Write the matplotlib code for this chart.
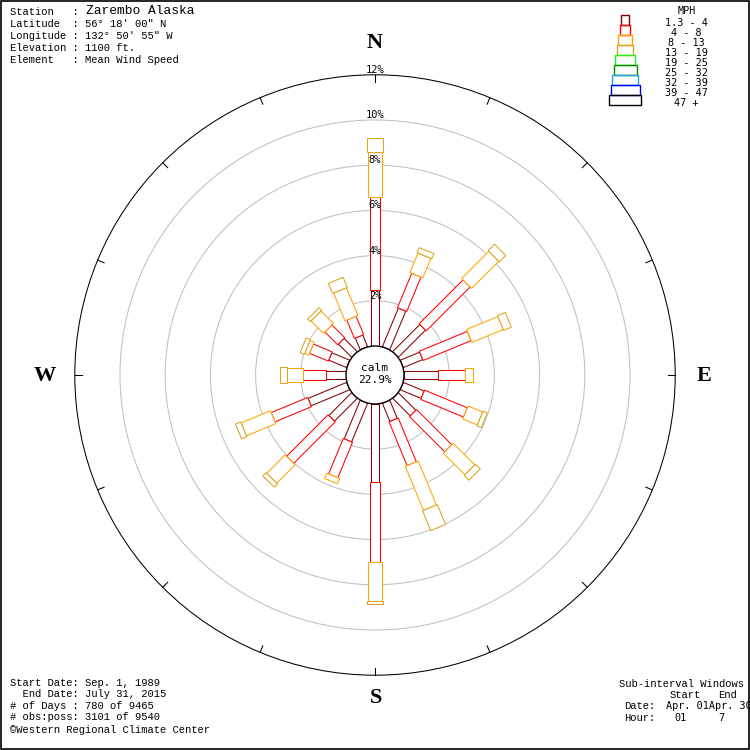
import numpy as np
import matplotlib
matplotlib.use("Agg")
import matplotlib.pyplot as plt
from matplotlib.patches import Polygon, Circle, Rectangle

# ---------------- data ----------------
directions = ['N', 'NNE', 'NE', 'ENE', 'E', 'ESE', 'SE', 'SSE',
              'S', 'SSW', 'SW', 'WSW', 'W', 'WNW', 'NW', 'NNW']
dir_angles = [0, 22.5, 45, 67.5, 90, 112.5, 135, 157.5,
              180, 202.5, 225, 247.5, 270, 292.5, 315, 337.5]
# percent of observations per speed bin (1.3-4, 4-8, 8-13, 13-19 mph)
spd_1_4 = [2.50, 1.85, 1.70, 0.93, 1.52, 1.00, 1.10, 0.87,
           3.45, 1.85, 1.43, 1.85, 0.90, 0.86, 0.83, 0.56]
spd_4_8 = [4.10, 1.65, 2.75, 2.30, 1.20, 2.05, 2.20, 2.10,
           3.55, 1.70, 2.60, 1.75, 1.00, 0.90, 0.80, 0.88]
spd_8_13 = [2.00, 0.93, 1.70, 1.50, 0.35, 0.70, 1.35, 2.10,
            1.70, 0.25, 1.15, 1.40, 0.70, 0.20, 0.78, 1.33]
spd_13_19 = [0.60, 0.24, 0.40, 0.37, 0.00, 0.20, 0.30, 0.95,
             0.17, 0.00, 0.20, 0.25, 0.33, 0.20, 0.16, 0.48]
calm_pct = 22.9
ring_pcts = [2, 4, 6, 8, 10, 12]

legend_labels = ['1.3 - 4', '4 - 8', '8 - 13', '13 - 19', '19 - 25',
                 '25 - 32', '32 - 39', '39 - 47', '47 +']
legend_colors = ['#800000', '#ff0000', '#ffa500', '#daa520', '#22ee22',
                 '#008800', '#1e9fef', '#0000ee', '#000000']

header = [("Station   : ", "Zarembo Alaska"),
          ("Latitude  : 56° 18' 00\" N", None),
          ("Longitude : 132° 50' 55\" W", None),
          ("Elevation : 1100 ft.", None),
          ("Element   : Mean Wind Speed", None)]
footer_left = ["Start Date: Sep. 1, 1989",
               "  End Date: July 31, 2015",
               "# of Days : 780 of 9465",
               "# obs:poss: 3101 of 9540"]

# ---------------- geometry (pixel-like data units) ----------------
CX, CY = 375.0, 375.0
R0 = 29.0        # calm circle radius
K = 22.6         # pixels per percent
seg_widths = [8, 10, 14, 16, 20, 23, 26, 29, 32]

def rad(p):
    return R0 + K * p

fig = plt.figure(figsize=(7.5, 7.5), dpi=100)
ax = fig.add_axes([0, 0, 1, 1])
ax.set_xlim(0, 750)
ax.set_ylim(750, 0)
ax.set_aspect('equal')
ax.axis('off')

LW = 0.75
mono = 'Liberation Mono'
smono = 'DejaVu Sans Mono'

# border
ax.add_patch(Rectangle((0.5, 0.5), 748.5, 748.5, fill=False, ec='black', lw=1.2, zorder=1))

# grid rings
for p in ring_pcts[:-1]:
    ax.add_patch(Circle((CX, CY), rad(p), fill=False, ec='#c0c0c0', lw=LW, zorder=1))
ax.add_patch(Circle((CX, CY), rad(ring_pcts[-1]), fill=False, ec='black', lw=LW, zorder=1))
# ticks on outer ring
Rout = rad(ring_pcts[-1])
for a in np.arange(0, 360, 22.5):
    t = np.deg2rad(a)
    ux, uy = np.sin(t), -np.cos(t)
    ax.plot([CX + Rout * ux, CX + (Rout - 7) * ux],
            [CY + Rout * uy, CY + (Rout - 7) * uy], color='black', lw=LW, zorder=1)

# bars
bins = [spd_1_4, spd_4_8, spd_8_13, spd_13_19]
for i, ang in enumerate(dir_angles):
    t = np.deg2rad(ang)
    u = np.array([np.sin(t), -np.cos(t)])
    v = np.array([np.cos(t), np.sin(t)])
    c = np.array([CX, CY])
    cum = 0.0
    for j, b in enumerate(bins):
        val = b[i]
        if val <= 0:
            continue
        r1, r2 = rad(cum), rad(cum + val)
        hw = seg_widths[j] / 2.0
        pts = [c + r1 * u - hw * v, c + r2 * u - hw * v,
               c + r2 * u + hw * v, c + r1 * u + hw * v]
        ax.add_patch(Polygon(pts, closed=True, fc='white', ec=legend_colors[j],
                             lw=LW, zorder=3 + j))
        cum += val

# calm circle
ax.add_patch(Circle((CX, CY), R0, fc='white', ec='black', lw=1.0, zorder=10))
ax.text(CX, 368, 'calm', ha='center', va='center', family=smono, fontsize=8, zorder=11)
ax.text(CX, 380, f'{calm_pct}%', ha='center', va='center', family=smono, fontsize=8, zorder=11)

# ring labels
for p in ring_pcts:
    ax.text(CX, CY - rad(p) - 5, f'{p}%', ha='center', va='center',
            family=smono, fontsize=7.5, zorder=12)

# compass letters
for lab, (x, y) in zip(['N', 'E', 'S', 'W'], [(375, 43), (704, 376), (376, 698), (45, 376)]):
    ax.text(x, y, lab, ha='center', va='center', family='Liberation Serif',
            fontweight='bold', fontsize=16)

# header
ys = [12, 24, 36, 48, 60]
for (a, b), y in zip(header, ys):
    ax.text(10, y, a, ha='left', va='center', family=mono, fontsize=7.6)
    if b:
        ax.text(86, y - 0.5, b, ha='left', va='center', family=mono, fontsize=9.4)

# legend
ax.text(687, 11, 'MPH', ha='center', va='center', family=smono, fontsize=7.3)
for k, (lab, col) in enumerate(zip(legend_labels, legend_colors)):
    y0 = 15 + 10 * k
    w = seg_widths[k]
    ax.add_patch(Rectangle((625 - w / 2, y0), w, 10, fill=False, ec=col, lw=1.0))
    ax.text(686, y0 + 8, lab, ha='center', va='center', family=smono, fontsize=7.3)

# footer left
for s, y in zip(footer_left, [683, 694, 706, 717]):
    ax.text(10, y, s, ha='left', va='center', family=mono, fontsize=7.6)
ax.text(10, 730, '©Western Regional Climate Center', ha='left', va='center',
        family=mono, fontsize=7.6)

# footer right
ax.text(619, 684, 'Sub-interval Windows', ha='left', va='center', family=mono, fontsize=7.6)
ax.text(670, 695, 'Start', ha='left', va='center', family=mono, fontsize=7.6)
ax.text(718, 695, 'End', ha='left', va='center', family=mono, fontsize=7.6)
ax.text(624, 706, 'Date:', ha='left', va='center', family=mono, fontsize=7.6)
ax.text(666, 706, 'Apr. 01Apr. 30', ha='left', va='center', family=smono, fontsize=7.3)
ax.text(624, 718, 'Hour:', ha='left', va='center', family=mono, fontsize=7.6)
ax.text(674, 718, '01', ha='left', va='center', family=smono, fontsize=7.3)
ax.text(718, 718, '7', ha='left', va='center', family=smono, fontsize=7.3)

fig.savefig('out.png', dpi=100)
